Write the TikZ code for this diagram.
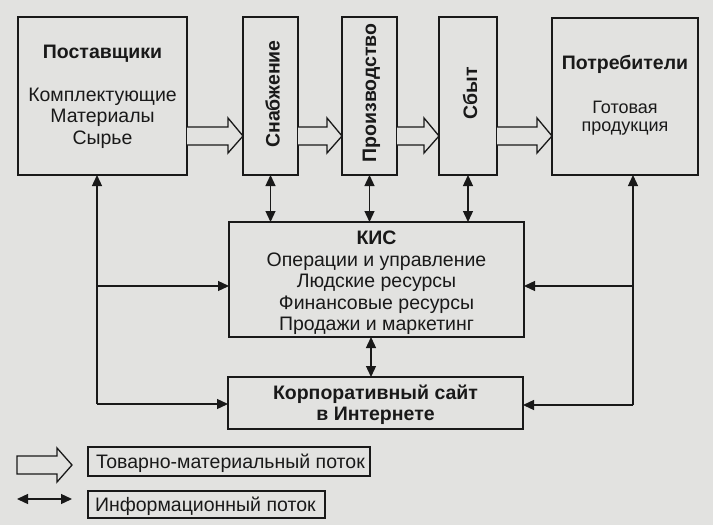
\documentclass[tikz,border=0pt]{standalone}
\usepackage{fontspec}
\setmainfont{Liberation Sans}
\usetikzlibrary{arrows.meta,calc}
\definecolor{paper}{RGB}{226,226,224}
\definecolor{ink}{RGB}{25,25,25}
\begin{document}
\begin{tikzpicture}[x=1pt,y=-1pt,
  every node/.style={inner sep=0pt,outer sep=0pt,text=ink},
  box/.style={draw=ink,line width=1.3pt,anchor=center},
  txt/.style={font=\fontsize{19.5}{21.5}\selectfont,align=center},
  smalltxt/.style={font=\fontsize{18}{18.5}\selectfont,align=center},
  boldtxt/.style={font=\fontsize{19.5}{21.5}\selectfont\bfseries,align=center},
  info/.style={draw=ink,line width=1.3pt,{Triangle[length=11pt,width=10pt]}-{Triangle[length=11pt,width=10pt]}},
  infoone/.style={draw=ink,line width=1.3pt,-{Triangle[length=11pt,width=10pt]}},
  goods/.style={draw=ink,line width=1.3pt,fill=paper,line join=miter}
]
\fill[paper] (0,0) rectangle (713,525);
\useasboundingbox (0,0) rectangle (713,525);

% main boxes
\node[box,minimum width=169pt,minimum height=158pt] (post) at (102.5,96) {};
\node[box,minimum width=55pt,minimum height=158pt] (snab) at (270.5,96) {};
\node[box,minimum width=55pt,minimum height=158pt] (proiz) at (369.5,96) {};
\node[box,minimum width=58pt,minimum height=158pt] (sbyt) at (468,96) {};
\node[box,minimum width=146pt,minimum height=157pt] (potr) at (625,96.5) {};
\node[box,minimum width=295pt,minimum height=115pt] (kis) at (376.5,279.5) {};
\node[box,minimum width=295pt,minimum height=52pt] (site) at (375.5,403) {};

% texts
\node[boldtxt] (postT) at (102.5,54) {Поставщики};
\node[txt] (postB) at (102.5,118) {Комплектующие\\Материалы\\Сырье};
\node[boldtxt,rotate=90] (snabT) at (272.5,94) {Снабжение};
\node[boldtxt,rotate=90] (proizT) at (371.5,93) {Производство};
\node[boldtxt,rotate=90] (sbytT) at (470,93) {Сбыт};
\node[boldtxt] (potrT) at (625,64) {Потребители};
\node[smalltxt] (potrB) at (625,118) {Готовая\\продукция};
\node[txt] (kisT) at (376.5,283) {\textbf{КИС}\\Операции и управление\\Людские ресурсы\\Финансовые ресурсы\\Продажи и маркетинг};
\node[boldtxt] (siteT) at (375.5,405) {Корпоративный сайт\\в Интернете};

% goods flow arrows (hollow)
\foreach \a/\b in {post/snab, snab/proiz, proiz/sbyt, sbyt/potr}{
  \draw[goods] (\a.east |- 0,127) -- ($(\b.west |- 0,127)+(-15,0)$) -- ($(\b.west |- 0,118)+(-15,0)$)
    -- (\b.west |- 0,136) -- ($(\b.west |- 0,153)+(-15,0)$) -- ($(\b.west |- 0,145)+(-15,0)$)
    -- (\a.east |- 0,145);
}

% info arrows vertical
\draw[info] (snab.south) -- (snab.south |- kis.north);
\draw[info] (proiz.south) -- (proiz.south |- kis.north);
\draw[info] (sbyt.south) -- (sbyt.south |- kis.north);
\draw[info] (kis.south -| 371,0) -- (site.north -| 371,0);

% left feedback line
\coordinate (L1) at (97,286);
\coordinate (L2) at (97,404);
\draw[infoone] (L2) -- (post.south -| L2);
\draw[infoone] (L1) -- (L1 -| kis.west);
\draw[infoone] (L2) -- (L2 -| site.west);

% right feedback line
\coordinate (R1) at (633,286);
\coordinate (R2) at (633,405);
\draw[infoone] (R2) -- (potr.south -| R2);
\draw[infoone] (R1) -- (R1 -| kis.east);
\draw[infoone] (R2) -- (R2 -| site.east);

% legend
\node[box,minimum width=282pt,minimum height=29pt] (leg1) at (229,461.5) {};
\node[txt,anchor=west] (leg1T) at (96,463) {Товарно-материальный поток};
\node[box,minimum width=237pt,minimum height=27pt] (leg2) at (206.5,504.5) {};
\node[txt,anchor=west] (leg2T) at (95,506) {Информационный поток};
\draw[goods] (17,456) -- (57,456) -- (57,448) -- (72,465) -- (57,482) -- (57,474) -- (17,474) -- cycle;
\coordinate (i0) at (17,499);
\coordinate (i1) at (72,499);
\draw[info] (i0) -- (i1);
\end{tikzpicture}
\end{document}
